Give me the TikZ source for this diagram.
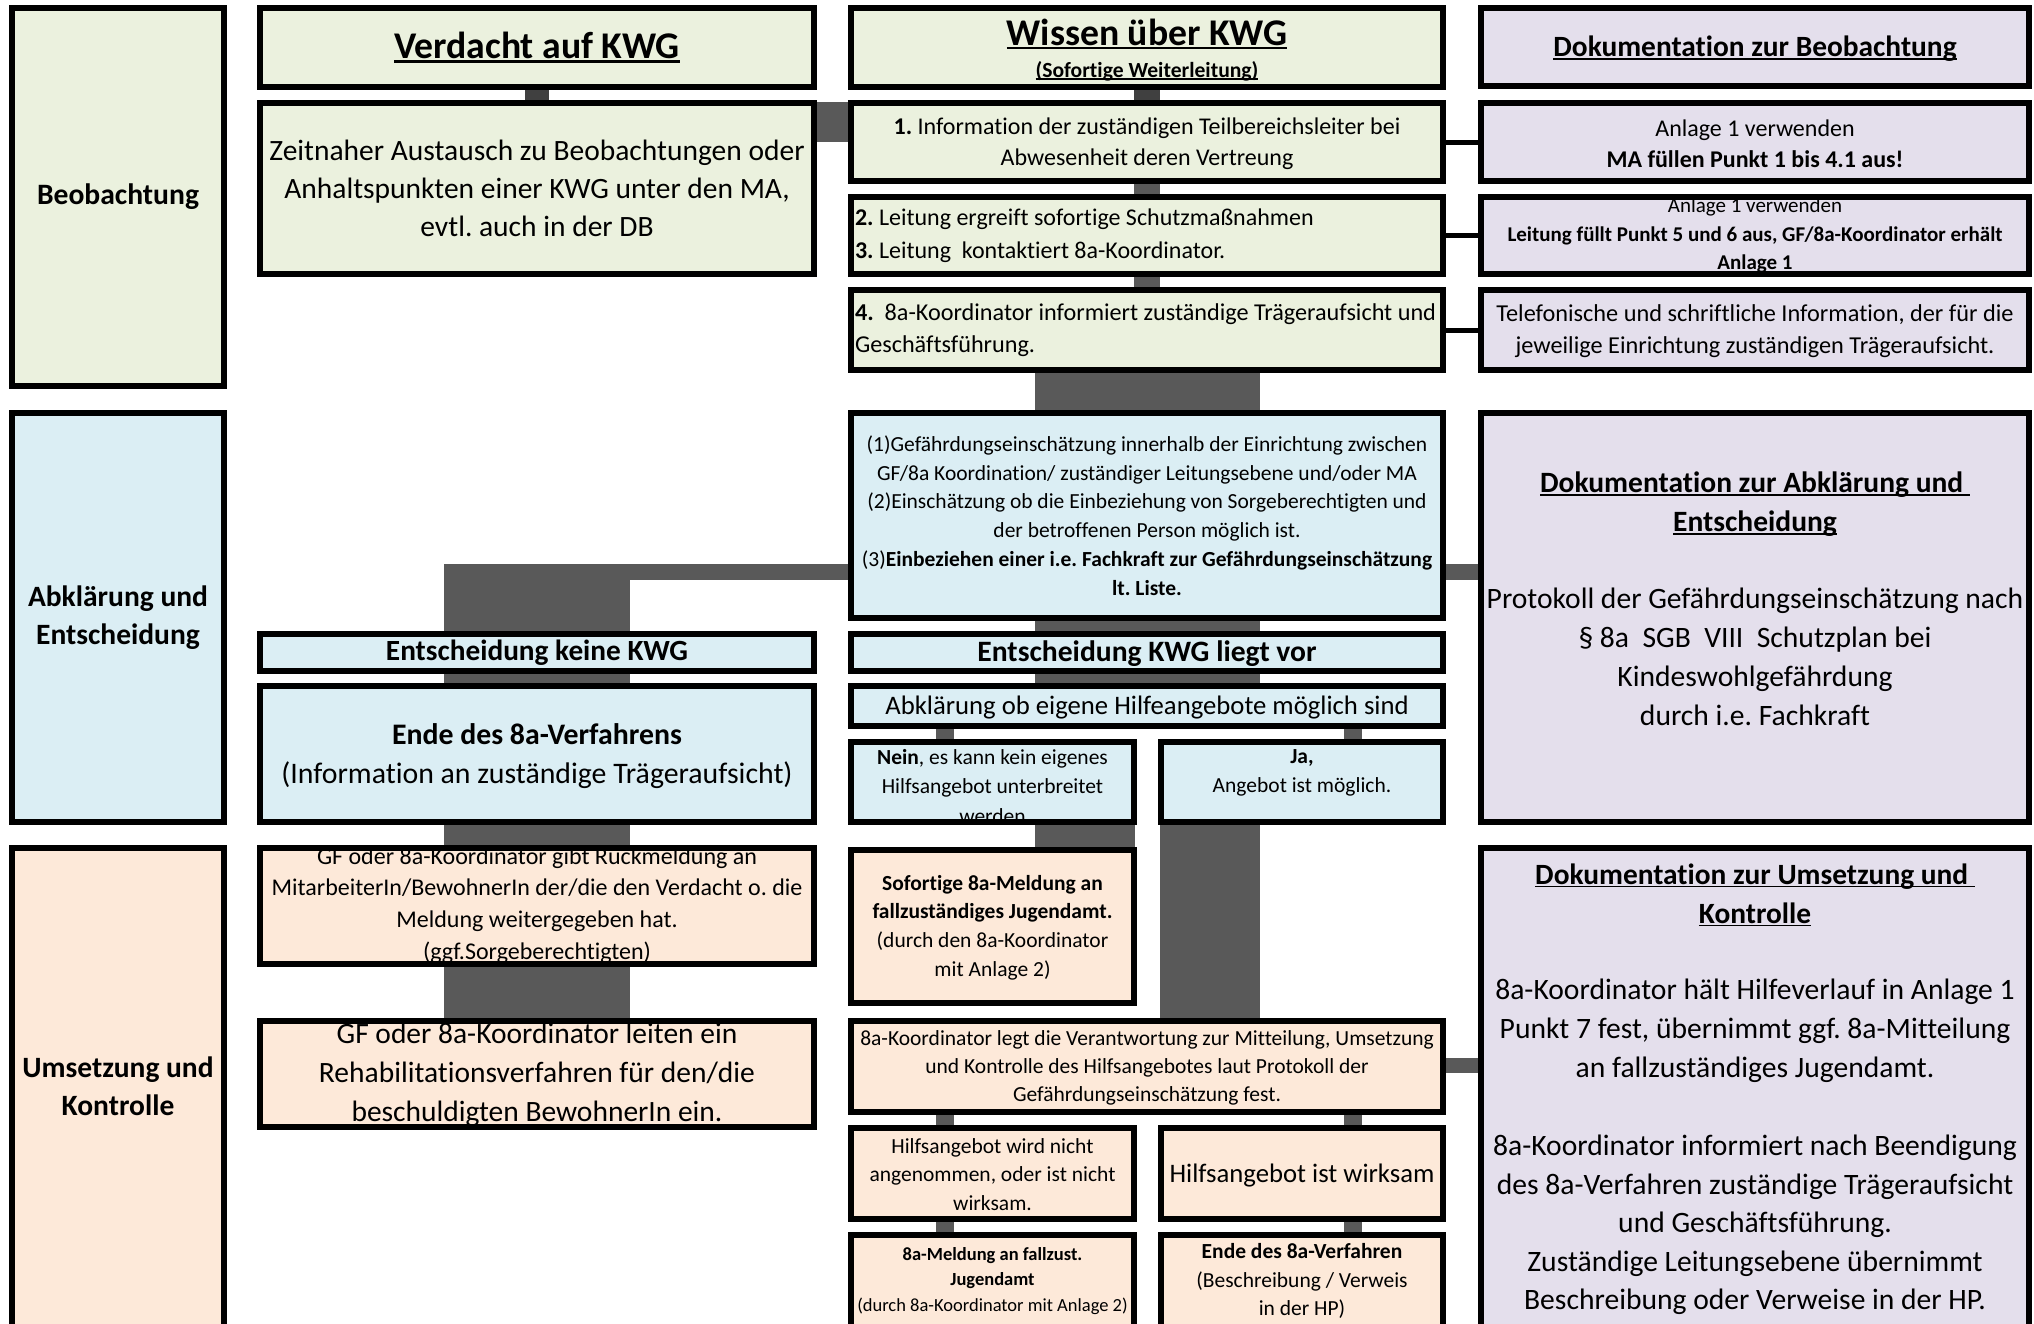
\documentclass[tikz,border=0pt]{standalone}
\usepackage{fontspec}
\setmainfont{Carlito}[Ligatures=NoCommon]
\usetikzlibrary{fit,backgrounds}
\definecolor{cgreen}{HTML}{EBF1DE}
\definecolor{cblue}{HTML}{DBEEF4}
\definecolor{cpeach}{HTML}{FDE9D9}
\definecolor{clav}{HTML}{E4DFEC}
\definecolor{cbar}{HTML}{595959}
\definecolor{cbard}{HTML}{404040}
\newsavebox\ulbox
\newcommand\ulx[1]{\sbox\ulbox{#1}\rlap{\rule[-0.11em]{\wd\ulbox}{0.065em}}\usebox\ulbox}
\newcommand\fsz[2]{\fontsize{#1}{#2}\selectfont}
\frenchspacing
\tikzset{
  box/.style={draw=black, line width=6pt, inner sep=0pt, outer sep=0pt, rectangle},
  bar/.style={draw=cbar},
  txt/.style={align=center, inner sep=0pt, outer sep=0pt},
  link/.style={draw=black, line width=5pt},
}
\begin{document}
\begin{tikzpicture}[x=1pt,y=-1pt]
\useasboundingbox (0,0) rectangle (2034,1323);
\clip (0,0) rectangle (2034,1323);

% ---------- phase labels ----------
\node[box, fill=cgreen, fit={(12,8) (224,386)}] (lblB) {};
\node[txt, font={\bfseries\fsz{29.6}{38}}] (lblB-t) at (lblB.center) {Beobachtung};
\node[box, fill=cblue, fit={(12,413) (224,822)}] (lblA) {};
\node[txt, font={\bfseries\fsz{29.5}{38}}] (lblA-t) at (lblA.center) {Abklärung und\\Entscheidung};
\node[box, fill=cpeach, fit={(12,848) (224,1335)}] (lblU) {};
\node[txt, font={\bfseries\fsz{29.5}{38}}] (lblU-t) at (118,1086) {Umsetzung und\\Kontrolle};

% ---------- column 1 ----------
\node[box, fill=cgreen, fit={(260,8) (814,87)}] (verd) {};
\node[txt, font={\bfseries\fsz{37.7}{40}}] (verd-t) at (verd.center) {\ulx{Verdacht auf KWG}};
\node[box, fill=cgreen, fit={(260,103) (814,274)}] (zeit) {};
\node[txt, font={\fsz{29.5}{38}}] (zeit-t) at (zeit.center) {Zeitnaher Austausch zu Beobachtungen oder\\Anhaltspunkten einer KWG unter den MA,\\evtl. auch in der DB};
\node[box, fill=cblue, fit={(260,634) (814,671)}] (keine) {};
\node[txt, font={\bfseries\fsz{29.3}{38}}] (keine-t) at (keine.center) {Entscheidung keine KWG};
\node[box, fill=cblue, fit={(260,686) (814,822)}] (ende1) {};
\node[txt, font={\fsz{29.8}{39}}] (ende1-t) at ([yshift=-2.5pt]ende1.center) {\textbf{Ende des 8a-Verfahrens}\\(Information an zuständige Trägeraufsicht)};
\node[box, fill=cpeach, fit={(260,848) (814,964)}] (rueck) {};
\begin{scope}
\clip ([shift={(3pt,-3pt)}]rueck.north west) rectangle ([shift={(-3pt,3pt)}]rueck.south east);
\node[txt, font={\fsz{24}{31.7}}] (rueck-t) at (537,905.5) {GF oder 8a-Koordinator gibt Rückmeldung an\\MitarbeiterIn/BewohnerIn der/die den Verdacht o. die\\Meldung weitergegeben hat.\\(ggf.Sorgeberechtigten)};
\end{scope}
\node[box, fill=cpeach, fit={(260,1021) (814,1127)}] (reha) {};
\begin{scope}
\clip ([shift={(3pt,-3pt)}]reha.north west) rectangle ([shift={(-3pt,3pt)}]reha.south east);
\node[txt, font={\fsz{29.5}{39}}] (reha-t) at (537,1075) {GF oder 8a-Koordinator leiten ein\\Rehabilitationsverfahren für den/die\\beschuldigten BewohnerIn ein.};
\end{scope}

% ---------- column 2 ----------
\node[box, fill=cgreen, fit={(851,8) (1443,87)}] (wissen) {};
\node[txt, font={\bfseries\fsz{37.7}{40}}] (wissen-t1) at (1147,34) {\ulx{Wissen über KWG}};
\node[txt, font={\bfseries\fsz{21.6}{24}}] (wissen-t2) at (1147,71) {\ulx{(Sofortige Weiterleitung)}};
\node[box, fill=cgreen, fit={(851,103) (1443,181)}] (s1) {};
\node[txt, font={\fsz{24}{31}}] (s1-t) at ([yshift=-1.5pt]s1.center) {\textbf{1.} Information der zuständigen Teilbereichsleiter bei\\Abwesenheit deren Vertreung};
\node[box, fill=cgreen, fit={(851,197) (1443,274)}] (s23) {};
\node[txt, align=left, anchor=west, font={\fsz{24}{33}}] (s23-t) at ([xshift=4pt]s23.west) {\textbf{2.} Leitung ergreift sofortige Schutzmaßnahmen\\\textbf{3.} Leitung\ \ kontaktiert 8a-Koordinator.};
\node[box, fill=cgreen, fit={(851,290) (1443,370)}] (s4) {};
\node[txt, align=left, anchor=west, font={\fsz{24.2}{32}}] (s4-t) at ([xshift=4pt]s4.west) {\textbf{4.}\ \ 8a-Koordinator informiert zuständige Trägeraufsicht und\\Geschäftsführung.};
\node[box, fill=cblue, fit={(851,413) (1443,618)}] (gef) {};
\node[txt, font={\fsz{21.5}{28.7}}] (gef-t) at (gef.center) {(1)Gefährdungseinschätzung innerhalb der Einrichtung zwischen\\GF/8a Koordination/ zuständiger Leitungsebene und/oder MA\\(2)Einschätzung ob die Einbeziehung von Sorgeberechtigten und\\der betroffenen Person möglich ist.\\(3)\textbf{Einbeziehen einer i.e. Fachkraft zur Gefährdungseinschätzung}\\\textbf{lt. Liste.}};
\node[box, fill=cblue, fit={(851,634) (1443,671)}] (kwg) {};
\node[txt, font={\bfseries\fsz{29.6}{38}}] (kwg-t) at ([yshift=-1.5pt]kwg.center) {Entscheidung KWG liegt vor};
\node[box, fill=cblue, fit={(851,686) (1443,726)}] (abkl) {};
\node[txt, font={\fsz{26.7}{34}}] (abkl-t) at ([yshift=-1.5pt]abkl.center) {Abklärung ob eigene Hilfeangebote möglich sind};
\node[box, fill=cblue, fit={(851,742) (1134,822)}] (nein) {};
\begin{scope}
\clip ([shift={(3pt,-3pt)}]nein.north west) rectangle ([shift={(-3pt,3pt)}]nein.south east);
\node[txt, font={\fsz{21.5}{29.5}}] (nein-t) at ([yshift=-4.5pt]nein.center) {\textbf{Nein}, es kann kein eigenes\\Hilfsangebot unterbreitet\\werden};
\end{scope}
\node[box, fill=cblue, fit={(1161,742) (1443,822)}] (ja) {};
\node[txt, font={\fsz{21.5}{29}}] (ja-t) at ([yshift=9.5pt]ja.center) {\textbf{Ja,}\\Angebot ist möglich.};
\node[box, fill=cpeach, fit={(851,850) (1134,1003)}] (sofort) {};
\node[txt, font={\fsz{21.5}{28.7}}] (sofort-t) at ([yshift=-1pt]sofort.center) {\textbf{Sofortige 8a-Meldung an}\\\textbf{fallzuständiges Jugendamt.}\\(durch den 8a-Koordinator\\mit Anlage 2)};
\node[box, fill=cpeach, fit={(851,1021) (1443,1112)}] (legt) {};
\node[txt, font={\fsz{21.5}{28}}] (legt-t) at ([yshift=-1pt]legt.center) {8a-Koordinator legt die Verantwortung zur Mitteilung, Umsetzung\\und Kontrolle des Hilfsangebotes laut Protokoll der\\Gefährdungseinschätzung fest.};
\node[box, fill=cpeach, fit={(851,1128) (1134,1219)}] (nicht) {};
\node[txt, font={\fsz{21.5}{28.5}}] (nicht-t) at ([yshift=-1pt]nicht.center) {Hilfsangebot wird nicht\\angenommen, oder ist nicht\\wirksam.};
\node[box, fill=cpeach, fit={(1161,1128) (1443,1219)}] (wirk) {};
\node[txt, font={\fsz{26.7}{34}}] (wirk-t) at ([yshift=-2pt]wirk.center) {Hilfsangebot ist wirksam};
\node[box, fill=cpeach, fit={(851,1235) (1134,1335)}] (meld) {};
\node[txt, font={\fsz{18.5}{25.5}}] (meld-t) at (992.5,1281) {\textbf{8a-Meldung an fallzust.}\\\textbf{Jugendamt}\\(durch 8a-Koordinator mit Anlage 2)};
\node[box, fill=cpeach, fit={(1161,1235) (1443,1335)}] (ende2) {};
\node[txt, font={\fsz{21.5}{28.7}}] (ende2-t) at (1302,1281) {\textbf{Ende des 8a-Verfahren}\\(Beschreibung / Verweis\\in der HP)};

% ---------- column 3 ----------
\node[box, fill=clav, fit={(1481,8) (2029,86)}] (docB) {};
\node[txt, font={\bfseries\fsz{29.4}{32}}] (docB-t) at ([yshift=-2pt]docB.center) {\ulx{Dokumentation zur Beobachtung}};
\node[box, fill=clav, fit={(1481,103) (2029,181)}] (an1) {};
\node[txt, font={\fsz{24}{31}}] (an1-t) at ([yshift=-1.5pt]an1.center) {Anlage 1 verwenden\\\textbf{MA füllen Punkt 1 bis 4.1 aus!}};
\node[box, fill=clav, fit={(1481,197) (2029,274)}] (an2) {};
\begin{scope}
\clip ([shift={(3pt,-3pt)}]an2.north west) rectangle ([shift={(-3pt,3pt)}]an2.south east);
\node[txt, font={\fsz{21}{28.5}}] (an2-t) at ([yshift=0pt]an2.center) {Anlage 1 verwenden\\\textbf{Leitung füllt Punkt 5 und 6 aus, GF/8a-Koordinator erhält}\\\textbf{Anlage 1}};
\end{scope}
\node[box, fill=clav, fit={(1481,290) (2029,370)}] (tel) {};
\node[txt, font={\fsz{24.3}{32}}] (tel-t) at ([yshift=-1.5pt]tel.center) {Telefonische und schriftliche Information, der für die\\jeweilige Einrichtung zuständigen Trägeraufsicht.};
\node[box, fill=clav, fit={(1481,413) (2029,822)}] (docA) {};
\node[txt, font={\bfseries\fsz{29.5}{39}}] (docA-t1) at (1755,504) {\ulx{Dokumentation zur Abklärung und\ }\\\ulx{Entscheidung}};
\node[txt, font={\fsz{29.6}{39}}] (docA-t2) at (1755,657) {Protokoll der Gefährdungseinschätzung nach\\§ 8a\ \ SGB\ \ VIII\ \ Schutzplan bei\\Kindeswohlgefährdung\\durch i.e. Fachkraft};
\node[box, fill=clav, fit={(1481,848) (2029,1335)}] (docU) {};
\node[txt, font={\bfseries\fsz{29.4}{39}}] (docU-t1) at (1755,895) {\ulx{Dokumentation zur Umsetzung und\ }\\\ulx{Kontrolle}};
\node[txt, font={\fsz{29.6}{39}}] (docU-t2) at (1755,1031) {8a-Koordinator hält Hilfeverlauf in Anlage 1\\Punkt 7 fest, übernimmt ggf. 8a-Mitteilung\\an fallzuständiges Jugendamt.};
\node[txt, font={\fsz{29.6}{38.5}}] (docU-t3) at (1755,1225) {8a-Koordinator informiert nach Beendigung\\des 8a-Verfahren zuständige Trägeraufsicht\\und Geschäftsführung.\\Zuständige Leitungsebene übernimmt\\Beschreibung oder Verweise in der HP.};

% ---------- connectors ----------
\coordinate (y122) at (0,122);
\coordinate (y564) at (0,564);
\coordinate (y572) at (0,572);
\coordinate (y1065) at (0,1065);
\coordinate (xL) at (945,0);
\coordinate (xR) at (1353,0);
\coordinate (xN) at (1085,0);
\coordinate (xJ) at (1210,0);
\begin{scope}[on background layer]
\draw[bar, draw=cbard, line width=24pt] (verd.south) -- (zeit.north);
\draw[bar, line width=40pt] (zeit.east |- y122) -- (s1.west |- y122);
\draw[bar, draw=cbard, line width=26pt] (wissen.south) -- (s1.north);
\draw[bar, line width=26pt] (s1.south) -- (s23.north);
\draw[bar, line width=26pt] (s23.south) -- (s4.north);
\draw[bar, line width=225pt] (s4.south) -- (gef.north);
\draw[bar, line width=225pt] (gef.south) -- (kwg.north);
\draw[bar, line width=225pt] (kwg.south) -- (abkl.north);
\draw[bar, line width=16pt] (gef.west |- y572) -- (keine.north |- y572);
\draw[bar, line width=186pt] (keine.north |- y564) -- (reha.north);
\draw[bar, line width=16pt] (gef.east |- y572) -- (docA.west |- y572);
\draw[bar, line width=18pt] (abkl.south -| xL) -- (nein.north -| xL);
\draw[bar, line width=18pt] (abkl.south -| xR) -- (ja.north -| xR);
\draw[bar, line width=100pt] (nein.south -| xN) -- (sofort.north -| xN);
\draw[bar, line width=100pt] (ja.south -| xJ) -- (legt.north -| xJ);
\draw[bar, line width=15pt] (legt.east |- y1065) -- (docU.west |- y1065);
\draw[bar, line width=18pt] (legt.south -| xL) -- (nicht.north -| xL);
\draw[bar, line width=18pt] (legt.south -| xR) -- (wirk.north -| xR);
\draw[bar, line width=18pt] (nicht.south -| xL) -- (meld.north -| xL);
\draw[bar, line width=18pt] (wirk.south -| xR) -- (ende2.north -| xR);
\end{scope}
\draw[link] (s1.east) -- (an1.west);
\draw[link] (s23.east) -- (an2.west);
\draw[link] (s4.east) -- (tel.west);
\end{tikzpicture}
\end{document}
